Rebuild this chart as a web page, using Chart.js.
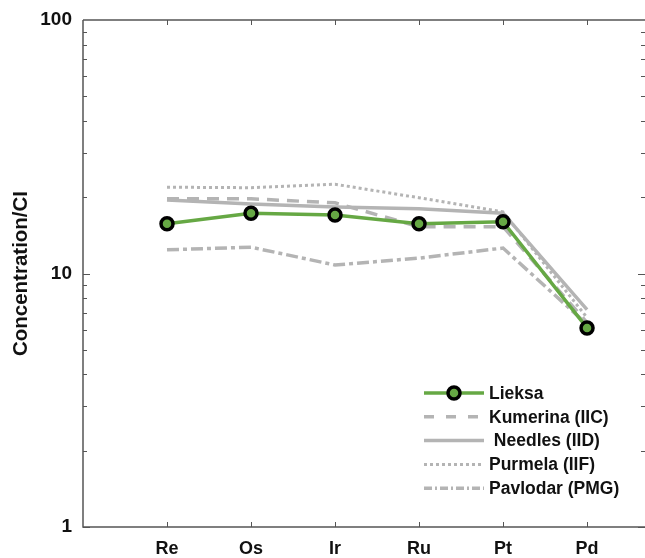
<!DOCTYPE html>
<html>
<head>
<meta charset="utf-8">
<script src="https://cdn.jsdelivr.net/npm/chart.js@4.4.1/dist/chart.umd.min.js"></script>
<style>
  html, body { margin: 0; padding: 0; background: #fff; overflow: hidden; }
</style>
</head>
<body>
<canvas id="chart" width="645" height="558"></canvas>
<script>
const categories = ["Re", "Os", "Ir", "Ru", "Pt", "Pd"];
const lieksa   = [15.7, 17.3, 17.0, 15.7, 16.0, 6.1];
const kumerina = [19.7, 19.7, 19.0, 15.3, 15.3, 6.4];
const needles  = [19.5, 18.8, 18.3, 18.0, 17.3, 7.2];
const purmela  = [21.9, 21.8, 22.5, 19.9, 17.5, 6.7];
const pavlodar = [12.4, 12.7, 10.8, 11.5, 12.6, 6.3];
const yLabels = [1, 10, 100];

const GREEN = "#66a844";
const GRAY = "#b4b4b4";
const FONT = "'Liberation Sans', Arial, sans-serif";

const toPoints = (vals) => vals.map((v, i) => ({ x: i + 1, y: v }));

// Draws the box and the inward-pointing ticks, plus the legend inside the plot
const frameAndLegend = {
  id: "frameAndLegend",
  afterDraw(chart) {
    const { ctx, chartArea: a, scales } = chart;
    const xs = scales.x, ys = scales.y;
    ctx.save();
    ctx.strokeStyle = "#555";
    ctx.lineWidth = 1.5;
    ctx.beginPath();
    ctx.moveTo(a.left, a.top);
    ctx.lineTo(a.right + 2, a.top);
    ctx.moveTo(a.left, a.top);
    ctx.lineTo(a.left, a.bottom);
    ctx.lineTo(a.right + 2, a.bottom);
    ctx.stroke();

    ctx.lineWidth = 1;
    ctx.beginPath();
    // category ticks, top and bottom
    categories.forEach((c, i) => {
      const px = Math.round(xs.getPixelForValue(i + 1)) + 0.5;
      ctx.moveTo(px, a.top);
      ctx.lineTo(px, a.top + 5);
      ctx.moveTo(px, a.bottom);
      ctx.lineTo(px, a.bottom - 5);
    });
    // log ticks, left and right
    for (let d = 1; d < 100; d *= 10) {
      for (let m = 1; m <= 9; m++) {
        const v = d * m;
        const py = Math.round(ys.getPixelForValue(v)) + 0.5;
        const len = m === 1 ? 7 : 4;
        ctx.moveTo(a.left, py);
        ctx.lineTo(a.left + len, py);
        ctx.moveTo(a.right, py);
        ctx.lineTo(a.right - len, py);
      }
    }
    ctx.stroke();

    // legend
    const x0 = 424, x1 = 484, tx = 489, y0 = 393, dy = 23.8;
    chart.data.datasets.forEach((ds, i) => {
      const y = y0 + i * dy;
      ctx.strokeStyle = ds.borderColor;
      ctx.lineWidth = ds.borderWidth;
      ctx.setLineDash(ds.legendDash || ds.borderDash || []);
      ctx.beginPath();
      ctx.moveTo(x0, y);
      ctx.lineTo(x1, y);
      ctx.stroke();
      ctx.setLineDash([]);
      if (ds.pointRadius > 0) {
        ctx.beginPath();
        ctx.arc((x0 + x1) / 2, y, ds.pointRadius, 0, Math.PI * 2);
        ctx.fillStyle = ds.pointBackgroundColor;
        ctx.fill();
        ctx.lineWidth = ds.pointBorderWidth;
        ctx.strokeStyle = ds.pointBorderColor;
        ctx.stroke();
      }
      ctx.fillStyle = "#111";
      ctx.font = "bold 17.5px " + FONT;
      ctx.textBaseline = "middle";
      ctx.textAlign = "left";
      ctx.fillText(ds.label, tx, y + 1);
    });
    ctx.restore();
  }
};

new Chart(document.getElementById("chart"), {
  type: "line",
  data: {
    datasets: [
      {
        label: "Lieksa",
        data: toPoints(lieksa),
        borderColor: GREEN,
        borderWidth: 3.5,
        pointRadius: 6,
        pointBackgroundColor: GREEN,
        pointBorderColor: "#000",
        pointBorderWidth: 3.5
      },
      {
        label: "Kumerina (IIC)",
        data: toPoints(kumerina),
        borderColor: GRAY,
        borderWidth: 3.5,
        borderDash: [12, 8],
        legendDash: [10, 12],
        pointRadius: 0
      },
      {
        label: " Needles (IID)",
        data: toPoints(needles),
        borderColor: GRAY,
        borderWidth: 3.5,
        pointRadius: 0
      },
      {
        label: "Purmela (IIF)",
        data: toPoints(purmela),
        borderColor: GRAY,
        borderWidth: 3,
        borderDash: [3, 3],
        pointRadius: 0
      },
      {
        label: "Pavlodar (PMG)",
        data: toPoints(pavlodar),
        borderColor: GRAY,
        borderWidth: 3.5,
        borderDash: [12, 4, 4, 4],
        legendDash: [8, 3, 2, 3],
        pointRadius: 0
      }
    ]
  },
  options: {
    responsive: false,
    animation: false,
    layout: { autoPadding: false, padding: { top: 20, right: 0, left: 0, bottom: 0 } },
    plugins: {
      legend: { display: false },
      tooltip: { enabled: false }
    },
    scales: {
      x: {
        type: "linear",
        min: 0,
        max: 6.69,
        grid: { display: false },
        border: { display: false },
        afterBuildTicks: (scale) => {
          scale.ticks = categories.map((c, i) => ({ value: i + 1 }));
        },
        ticks: {
          autoSkip: false,
          maxRotation: 0,
          padding: 3,
          color: "#111",
          font: { family: FONT, size: 18, weight: "bold" },
          callback: (v) => categories[v - 1] || ""
        },
        afterFit: (scale) => {
          scale.height = 31;
          scale.paddingLeft = 0;
          scale.paddingRight = 0;
        }
      },
      y: {
        type: "logarithmic",
        min: 1,
        max: 100,
        grid: { display: false },
        border: { display: false },
        afterBuildTicks: (scale) => {
          scale.ticks = yLabels.map((v) => ({ value: v, major: true }));
        },
        ticks: {
          padding: 3,
          color: "#111",
          font: { family: FONT, size: 19, weight: "bold" },
          callback: (v) => String(v)
        },
        title: {
          display: true,
          text: "Concentration/CI",
          color: "#111",
          font: { family: FONT, size: 20.5, weight: "bold" },
          padding: { top: 9, bottom: 0 }
        },
        afterFit: (scale) => { scale.width = 83; }
      }
    }
  },
  plugins: [frameAndLegend]
});
</script>
</body>
</html>
